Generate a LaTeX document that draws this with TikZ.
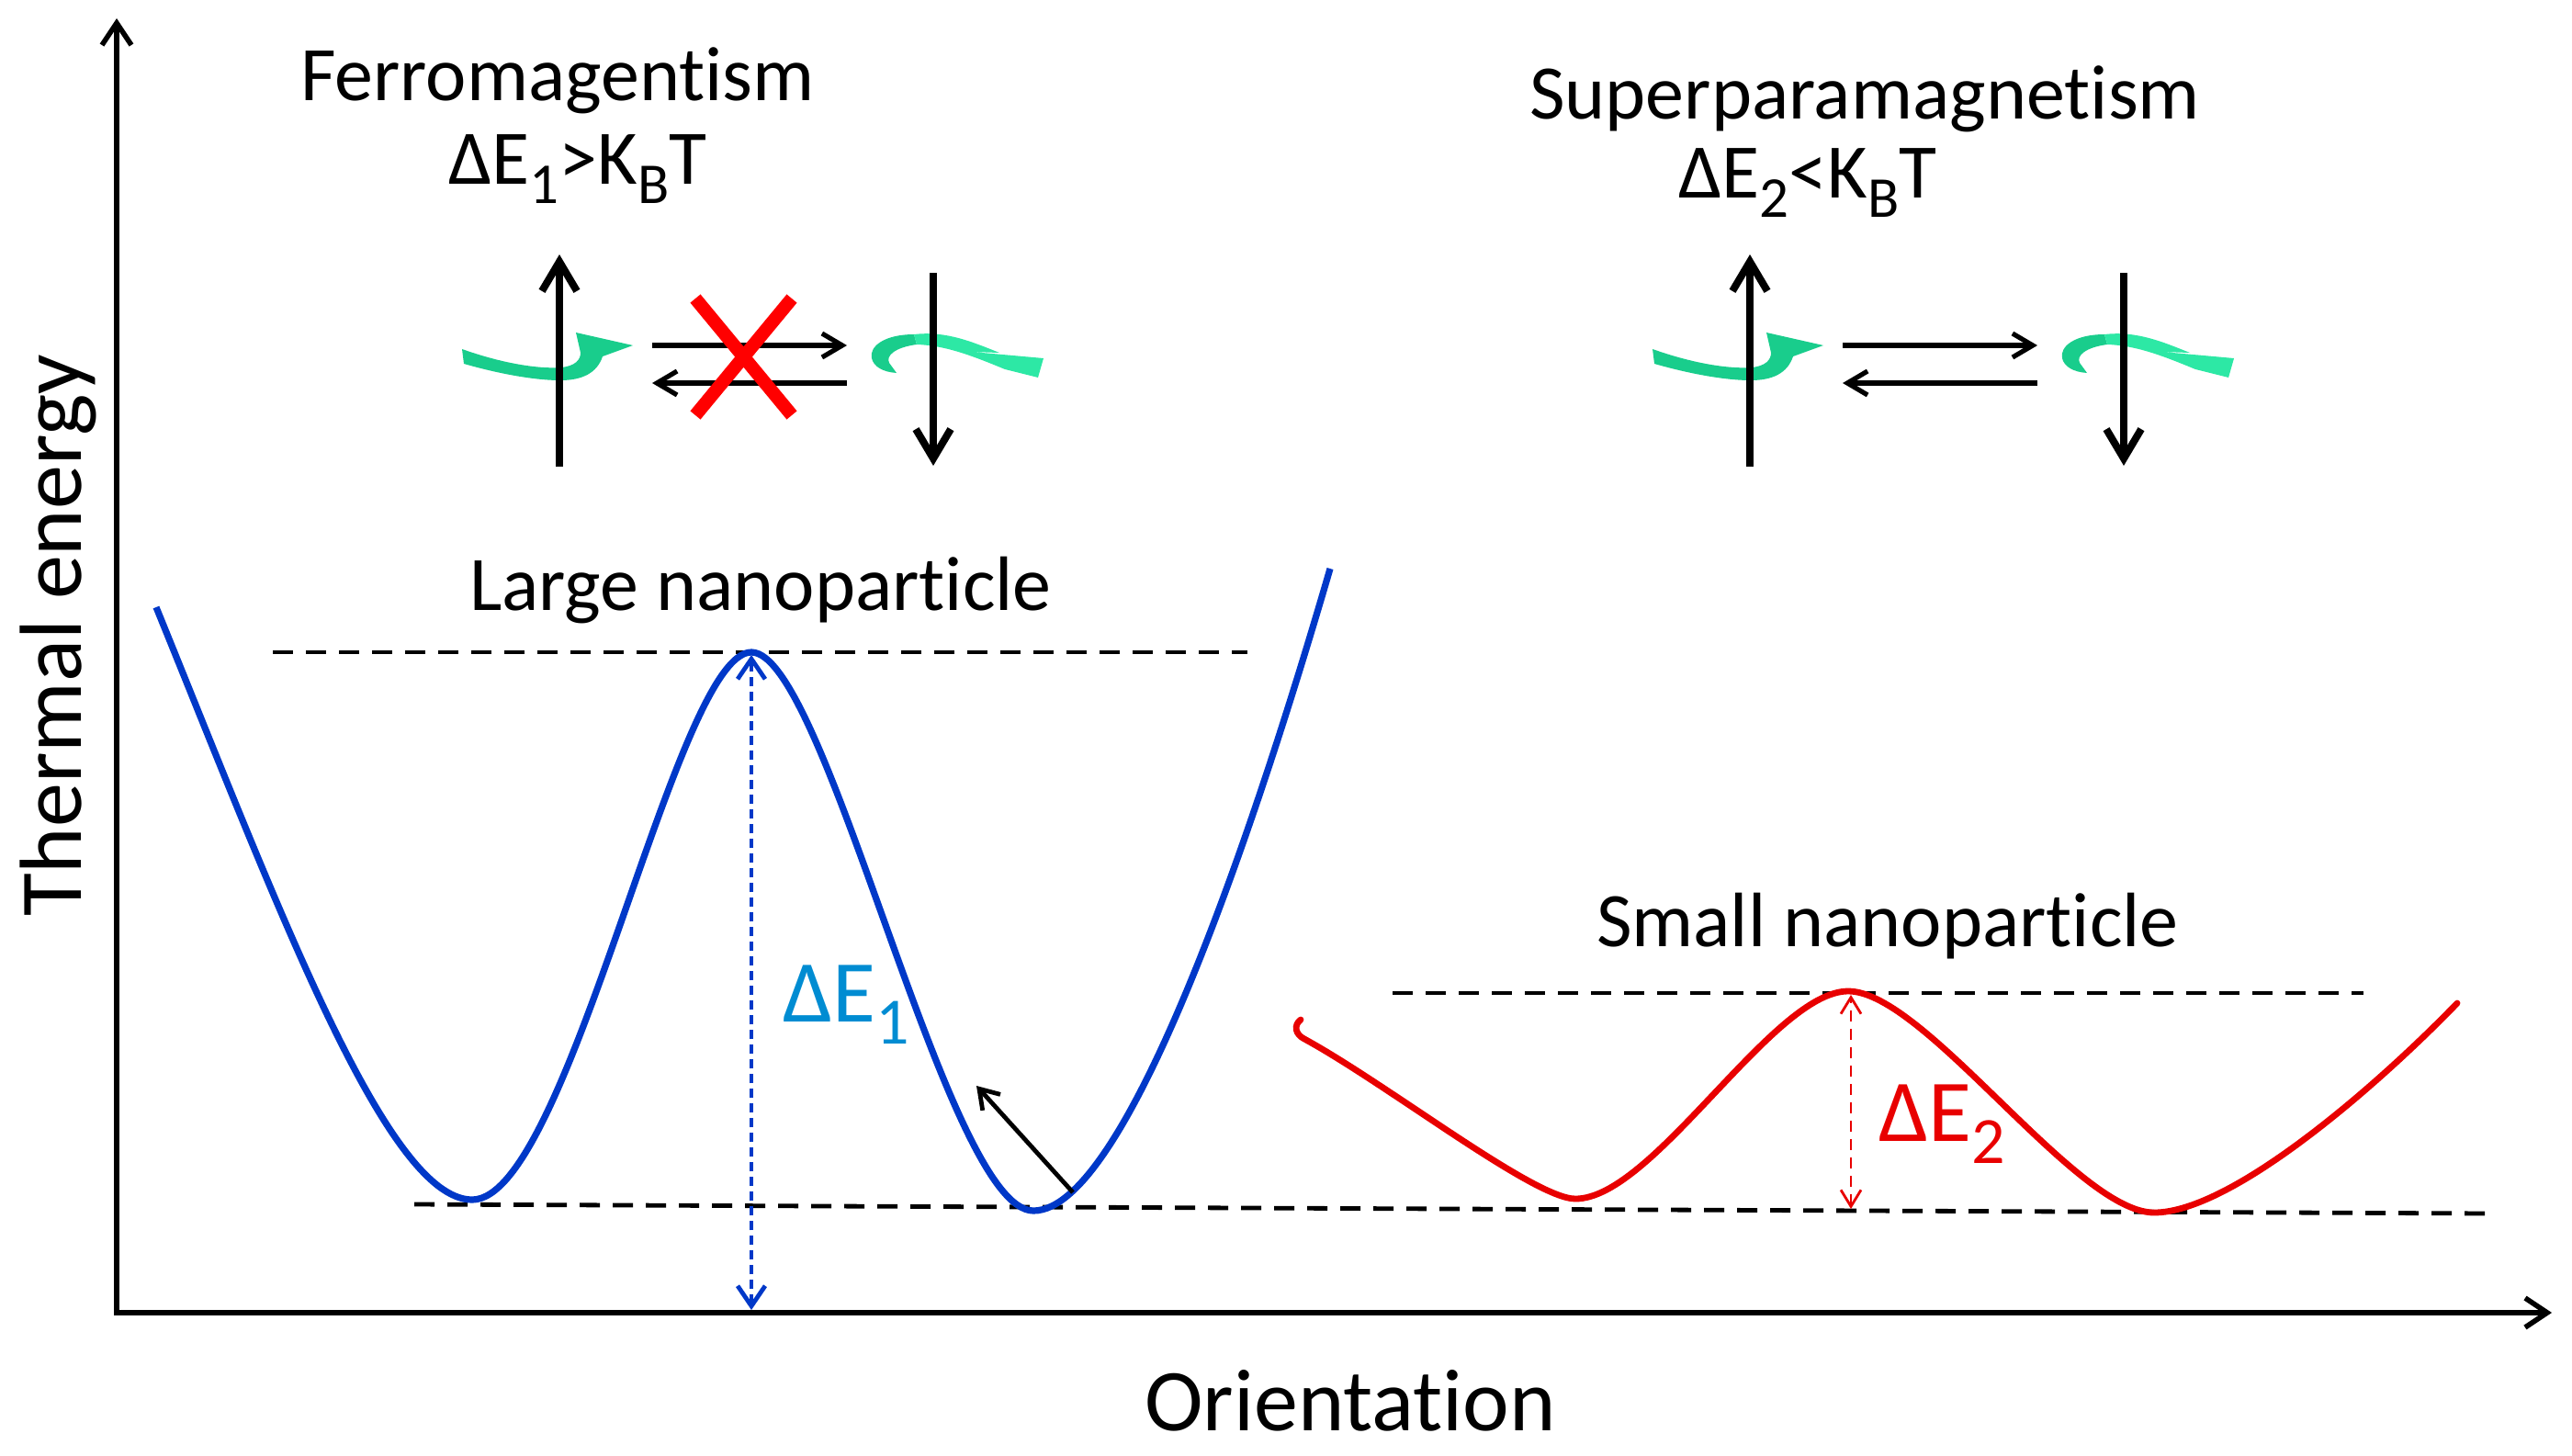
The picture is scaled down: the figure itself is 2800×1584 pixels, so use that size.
\documentclass[tikz,border=0pt]{standalone}
\usepackage{fontspec}
\setmainfont{Carlito}[Ligatures=NoCommon]
\usepackage{graphicx}
\usetikzlibrary{arrows.meta}
\definecolor{cblue}{RGB}{0,56,200}
\definecolor{lblue}{RGB}{0,140,210}
\definecolor{cred}{RGB}{232,0,0}
\definecolor{xred}{RGB}{255,0,0}
\definecolor{swirl}{RGB}{45,232,165}
\definecolor{swirldk}{RGB}{25,205,140}
\newcommand\lsub[1]{\raisebox{-0.25em}{\scalebox{0.75}{#1}}}
\tikzset{
 axisline/.style={line width=1.4pt},
 curveblue/.style={cblue, line width=1.8pt},
 curvered/.style={cred, line width=1.7pt},
 level/.style={line width=1.2pt, dash pattern=on 5.5pt off 3.5pt},
 spin/.style={line width=2pt, -{Straight Barb[length=8pt,width=9.5pt]}},
 flip/.style={line width=1.3pt, -{Straight Barb[length=5.5pt,width=6.5pt]}},
 lbl/.style={anchor=base, inner sep=0pt, font=\fontsize{21}{25}\selectfont},
 biglbl/.style={inner sep=0pt, font=\fontsize{24}{29}\selectfont},
 spinpair/.pic={
  % swirls (behind the spin arrows)
  \fill[swirldk] (503,380) .. controls (545,395) and (585,402) .. (612,400)
     .. controls (626,398) and (632,392) .. (632,384) -- (627,362) -- (689,376) -- (656,388)
     .. controls (650,406) and (634,414) .. (610,414)
     .. controls (580,414) and (540,406) .. (505,396) -- cycle;
  \fill[swirldk] (995,364) .. controls (963,364) and (946,377) .. (949,390)
     .. controls (951,399) and (961,405) .. (976,406) -- (968,395)
     .. controls (964,387) and (975,378) .. (998,375) -- cycle;
  \fill[swirl] (995,364) .. controls (1030,360) and (1058,372) .. (1088,384) -- (1058,383)
     -- (1136,390) -- (1130,411) -- (1094,402)
     .. controls (1060,388) and (1030,376) .. (998,375) -- cycle;
  \coordinate (-upb) at (609,508); \coordinate (-upt) at (609,277);
  \coordinate (-dnt) at (1016,297); \coordinate (-dnb) at (1016,507);
  \coordinate (-ra) at (710,376); \coordinate (-rb) at (922,376);
  \coordinate (-la) at (922,417); \coordinate (-lb) at (710,417);
  \draw[spin] (-upb) -- (-upt);
  \draw[spin] (-dnt) -- (-dnb);
  \draw[flip] (-ra) -- (-rb);
  \draw[flip] (-la) -- (-lb);
 }
}
\begin{document}
\begin{tikzpicture}[x=0.25pt,y=-0.25pt]
\useasboundingbox (0,0) rectangle (2800,1584);

% axes
\coordinate (O) at (127,1429);
\coordinate (Ytop) at (127,20);
\coordinate (Xend) at (2778,1429);
\draw[axisline, {Straight Barb[length=6pt,width=8pt]}-{Straight Barb[length=6pt,width=8pt]}] (Ytop) -- (O) -- (Xend);

% spin pictures
\pic (fm) at (0,0) {spinpair};
\pic (sp) at (1296,0) {spinpair};
\coordinate (xa) at (757,325); \coordinate (xb) at (862,452);
\coordinate (xc) at (862,325); \coordinate (xd) at (757,452);
\draw[xred, line width=3.6pt] (xa) -- (xb) (xc) -- (xd);

% level lines
\coordinate (l1a) at (297,710); \coordinate (l1b) at (1358,710);
\coordinate (l0a) at (451,1311); \coordinate (l0b) at (2714,1321);
\coordinate (l2a) at (1516,1081); \coordinate (l2b) at (2573,1081);
\draw[level] (l1a) -- (l1b);
\draw[level] (l0a) -- (l0b);
\draw[level] (l2a) -- (l2b);

% blue curve
\coordinate (bstart) at (170,661);
\coordinate (bmin1) at (514,1306);
\coordinate (bpeak) at (818,710);
\coordinate (bmin2) at (1125,1318);
\coordinate (bend) at (1448,619);
\draw[curveblue] (bstart) .. controls (300,980) and (420,1306) .. (bmin1)
  .. controls (620,1306) and (735,710) .. (bpeak)
  .. controls (900,710) and (1030,1318) .. (bmin2)
  .. controls (1230,1318) and (1375,870) .. (bend);

% red curve
\coordinate (rstart) at (1416,1110);
\coordinate (rmin1) at (1715,1305);
\coordinate (rpeak) at (2012,1079);
\coordinate (rmin2) at (2345,1320);
\coordinate (rend) at (2675,1092);
\draw[curvered, line cap=round] (rstart) .. controls (1408,1116) and (1410,1126) .. (1420,1131)
  .. controls (1510,1180) and (1670,1305) .. (rmin1)
  .. controls (1800,1305) and (1930,1079) .. (rpeak)
  .. controls (2095,1079) and (2260,1320) .. (rmin2)
  .. controls (2430,1320) and (2590,1180) .. (rend);

% barrier arrows
\coordinate (e1b) at (818,1426); \coordinate (e1t) at (818,713);
\draw[cblue, line width=1.2pt, dash pattern=on 2.5pt off 1.5pt,
  {Straight Barb[length=5.5pt,width=7.5pt]}-{Straight Barb[length=5.5pt,width=7.5pt]}] (e1b) -- (e1t);
\coordinate (e2b) at (2015,1316); \coordinate (e2t) at (2015,1083);
\draw[cred, line width=0.7pt, dash pattern=on 3pt off 2pt,
  {Straight Barb[length=4.5pt,width=5.5pt]}-{Straight Barb[length=4.5pt,width=5.5pt]}] (e2b) -- (e2t);

% small black arrow
\coordinate (ka) at (1168,1298); \coordinate (kb) at (1063,1182);
\draw[line width=1.2pt, -{Straight Barb[length=5pt,width=6.5pt]}] (ka) -- (kb);

% labels
\node[lbl] (ferro) at (607,110) {Ferromagentism};
\node[lbl] (ferroc) at (629,200) {ΔE\lsub{1}>K\lsub{B}T};
\node[lbl] (super) at (2030,130) {Superparamagnetism};
\node[lbl] (superc) at (1968,215) {ΔE\lsub{2}<K\lsub{B}T};
\node[lbl] (large) at (828,664) {Large nanoparticle};
\node[lbl] (small) at (2055,1030) {Small nanoparticle};
\node[biglbl, anchor=base] (orient) at (1470,1557) {Orientation};
\node[biglbl, anchor=base, rotate=90] (thermal) at (88,692) {Thermal energy};
\node[biglbl, anchor=base west, text=lblue] (de1) at (852,1112) {ΔE\lsub{1}};
\node[biglbl, anchor=base west, text=cred] (de2) at (2045,1242) {ΔE\lsub{2}};
\end{tikzpicture}
\end{document}
